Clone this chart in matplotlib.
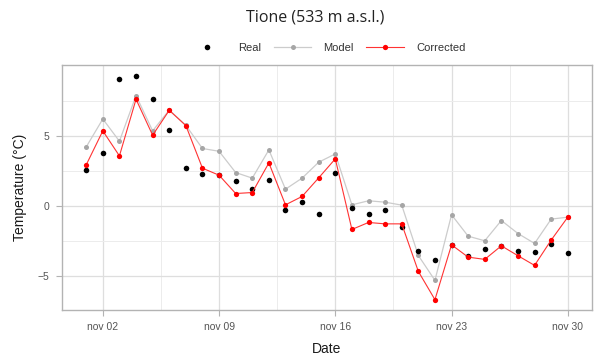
import numpy as np
import matplotlib
matplotlib.use("Agg")
import matplotlib.pyplot as plt
from matplotlib.lines import Line2D

# daily values, 1-30 November
days = np.arange(np.datetime64("2020-11-01"), np.datetime64("2020-12-01"))
real = [2.57, 3.79, 9.07, 9.26, 7.67, 5.45, 2.67, 2.29, 2.2, 1.76,
        1.19, 1.86, -0.29, 0.24, -0.57, 2.38, -0.17, -0.57, -0.29, -1.48,
        -3.26, -3.9, -2.8, -3.6, -3.1, -2.9, -3.26, -3.29, -2.74, -3.38]
model = [4.21, 6.21, 4.62, 7.88, 5.36, 6.85, 5.75, 4.1, 3.9, 2.38,
         1.98, 4.0, 1.19, 1.98, 3.12, 3.71, 0.07, 0.36, 0.26, 0.05,
         -3.55, -5.33, -0.64, -2.17, -2.5, -1.05, -1.98, -2.69, -0.95, -0.81]
corrected = [2.93, 5.36, 3.57, 7.62, 5.05, 6.83, 5.74, 2.69, 2.19, 0.88,
             0.95, 3.07, 0.07, 0.67, 2.0, 3.36, -1.69, -1.19, -1.29, -1.29,
             -4.69, -6.71, -2.79, -3.67, -3.83, -2.86, -3.57, -4.26, -2.45, -0.81]
tick_days = ["2020-11-02", "2020-11-09", "2020-11-16", "2020-11-23", "2020-11-30"]
tick_labels = ["nov 02", "nov 09", "nov 16", "nov 23", "nov 30"]

plt.rcParams['font.family'] = ['Liberation Sans', 'DejaVu Sans']

fig = plt.figure(figsize=(5.95, 3.58), dpi=100)
ax = fig.add_axes([62 / 595, 1 - 310 / 358, 530 / 595, 245 / 358])

ax.plot(days, model, color="#cccccc", lw=0.9, zorder=2)
ax.plot(days, model, "o", color="#a6a6a6", ms=3.6, mec="none", zorder=3)
ax.plot(days, real, "o", color="black", ms=4, mec="none", zorder=4)
ax.plot(days, corrected, color="#ff3333", lw=0.8, zorder=5)
ax.plot(days, corrected, "o", color="red", ms=3.8, mec="none", zorder=6)

ax.set_xlim(np.datetime64("2020-10-30T13:00"), np.datetime64("2020-12-01T11:00"))
ax.set_ylim(-7.45, 10.07)

ticks = np.array(tick_days, dtype="datetime64[D]")
ax.set_xticks(ticks)
ax.set_xticklabels(tick_labels)
minor = ticks[:-1] + np.timedelta64(84, "h")
ax.set_xticks(minor, minor=True)
ax.set_yticks([-5, 0, 5])
ax.set_yticks([-2.5, 2.5, 7.5], minor=True)

ax.grid(which="major", color="#dedede", lw=0.9)
ax.grid(which="minor", color="#ececec", lw=0.7)
ax.set_axisbelow(True)
for s in ax.spines.values():
    s.set_color("#b3b3b3")
    s.set_linewidth(1.0)
ax.tick_params(which="major", length=4, color="#b3b3b3", labelsize=7.5,
               labelcolor="#555555", pad=5)
ax.tick_params(which="minor", length=0)

ax.set_xlabel("Date", fontsize=10, color="#1a1a1a", labelpad=7)
ax.set_ylabel("Temperature (°C)", fontsize=10, color="#1a1a1a", labelpad=8)

fig.text(315 / 595, 1 - 18 / 358, "Tione (533 m a.s.l.)", ha="center", va="center",
         fontsize=11.5, family=["Open Sans", "DejaVu Sans"], color="#222222")

handles = [
    Line2D([], [], ls="none", marker="o", color="black", ms=4, mec="none"),
    Line2D([], [], color="#cccccc", lw=0.9, marker="o", mfc="#a6a6a6", mec="none", ms=3.6),
    Line2D([], [], color="#ff3333", lw=0.8, marker="o", mfc="red", mec="none", ms=3.8),
]
fig.legend(handles, ["Real", "Model", "Corrected"], loc="center",
           bbox_to_anchor=(327 / 595, 1 - 48 / 358), ncol=3, frameon=False,
           fontsize=8, handlelength=3.4, handletextpad=1.1, columnspacing=1.1,
           labelcolor="#333333")

fig.savefig("out.png", dpi=100)
